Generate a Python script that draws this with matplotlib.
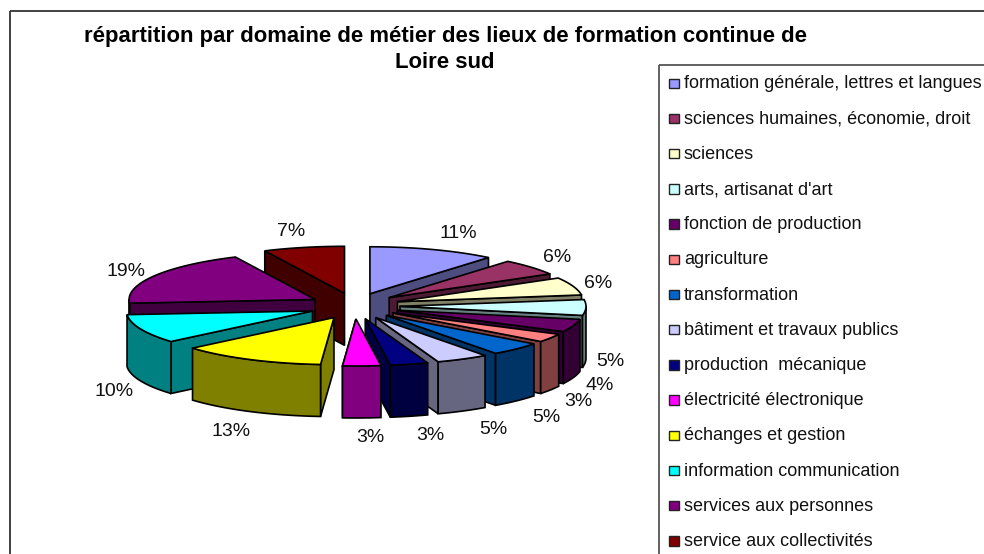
import numpy as np
import matplotlib
matplotlib.use('Agg')
import matplotlib.pyplot as plt
from matplotlib.patches import Polygon, Rectangle

plt.rcParams['font.family'] = ['Liberation Sans', 'DejaVu Sans']

categories = ['formation générale, lettres et langues', 'sciences humaines, économie, droit',
              'sciences', "arts, artisanat d'art", 'fonction de production', 'agriculture',
              'transformation', 'bâtiment et travaux publics', 'production  mécanique',
              'électricité électronique', 'échanges et gestion', 'information communication',
              'services aux personnes', 'service aux collectivités']
values = [11.0, 5.6, 6.1, 5.4, 4.4, 2.9, 4.6, 4.55, 3.3, 3.3, 12.6, 10.0, 19.2, 7.05]
colors = ['#9999FF', '#993366', '#FFFFCC', '#CCFFFF', '#660066', '#FF8080', '#0066CC',
          '#CCCCFF', '#000080', '#FF00FF', '#FFFF00', '#00FFFF', '#800080', '#800000']
label_xy = [(458, 234), (557, 258), (598, 283), (610, 361), (600, 386), (578, 402), (546, 418),
            (493, 429), (430, 436), (370, 438), (231, 432), (114, 391), (126, 272), (291, 231)]
title = 'répartition par domaine de métier des lieux de formation continue de\nLoire sud'

# pie geometry, in pixels
cx, cy = 354.5, 306
rx, ry = 186, 47
explode = 45.5
depth = 52
edge = '#000000'
lw = 1.2

fig = plt.figure(figsize=(9.84, 5.54), dpi=100)
ax = fig.add_axes([0, 0, 1, 1])
ax.set_xlim(0, 984)
ax.set_ylim(554, 0)
ax.axis('off')


def pt(a, r=1.0):
    return r * rx * np.sin(a), -r * ry * np.cos(a)


def darker(c):
    return tuple(0.5 * v for v in matplotlib.colors.to_rgb(c))


fracs = np.array(values) / sum(values)
ends = np.cumsum(fracs) * 2 * np.pi
starts = ends - fracs * 2 * np.pi
mids = (starts + ends) / 2

# back to front
order = np.argsort(-np.abs(mids - np.pi))
for z, i in enumerate(order):
    a0, a1, m = starts[i], ends[i], mids[i]
    ox = cx + explode * np.sin(m)
    oy = cy - 13 * np.cos(m)
    top = colors[i]
    wall = darker(top)
    base = 10 + z * 3

    # radial wall facing the viewer
    a_wall = a1 if m < np.pi else a0
    x, y = pt(a_wall)
    ax.add_patch(Polygon([(ox, oy), (ox + x, oy + y), (ox + x, oy + y + depth), (ox, oy + depth)],
                         fc=wall, ec=edge, lw=lw, zorder=base))

    # outer wall, only the front half of the rim shows
    lo, hi = max(a0, np.pi / 2), min(a1, 3 * np.pi / 2)
    if hi > lo:
        t = np.linspace(lo, hi, 40)
        xs, ys = pt(t)
        pts = np.column_stack([ox + xs, oy + ys])
        pts2 = pts[::-1] + [0, depth]
        ax.add_patch(Polygon(np.vstack([pts, pts2]), fc=wall, ec=edge, lw=lw, zorder=base + 1))

    # top face
    t = np.linspace(a0, a1, 40)
    xs, ys = pt(t)
    poly = np.vstack([[ox, oy], np.column_stack([ox + xs, oy + ys])])
    ax.add_patch(Polygon(poly, fc=top, ec=edge, lw=lw, zorder=base + 2))

for v, (x, y) in zip(values, label_xy):
    ax.text(x, y, '%d%%' % round(v), ha='center', va='center', fontsize=14, color='#111111', zorder=100)

ax.text(445, 49.5, title, ha='center', va='center', fontsize=15.9, fontweight='bold',
        linespacing=1.35, color='#000000')

# chart frame and legend box run off the canvas
ax.add_patch(Rectangle((10, 11), 1100, 700, fc='none', ec='#333333', lw=1.3, zorder=1))
ax.add_patch(Rectangle((659, 65), 500, 600, fc='none', ec='#555555', lw=1.3, zorder=1))

for i, (name, c) in enumerate(zip(categories, colors)):
    y = 83 + 35.2 * i
    ax.add_patch(Rectangle((669, y - 4.5), 9.5, 9.5, fc=c, ec='#222222', lw=1, zorder=5))
    ax.text(684, y + 1, name, ha='left', va='center', fontsize=13, color='#111111')

fig.savefig('out.png', dpi=100)
